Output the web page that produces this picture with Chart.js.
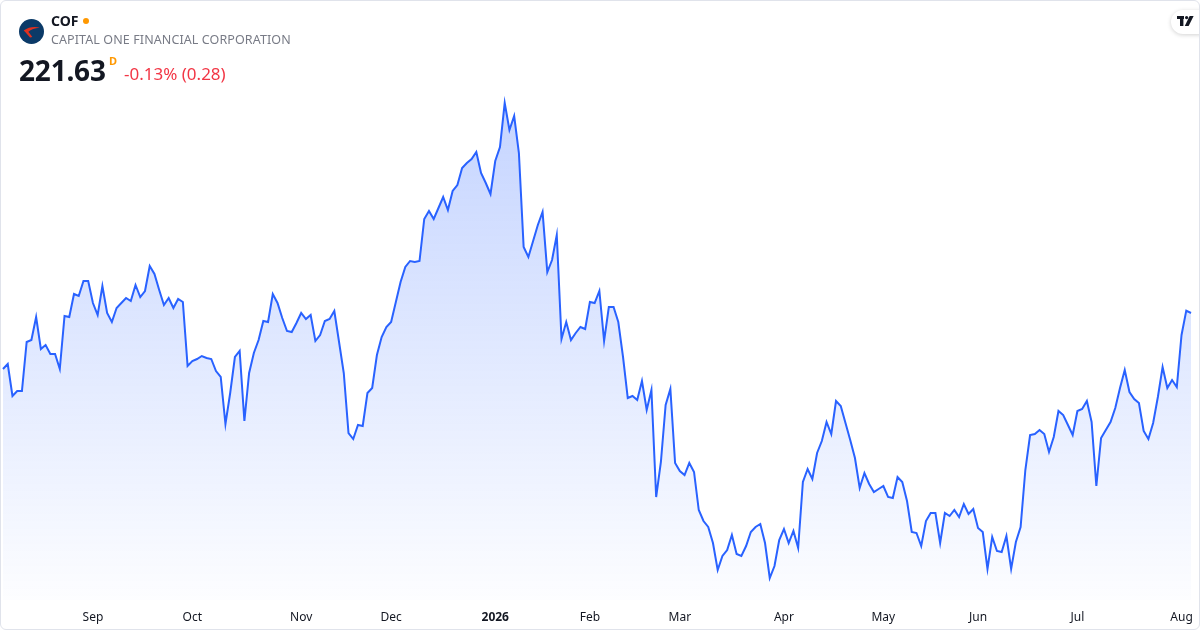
<!DOCTYPE html>
<html>
<head>
<meta charset="utf-8">
<script src="https://cdn.jsdelivr.net/npm/chart.js"></script>
<style>
  html, body { margin: 0; padding: 0; background: #fff; }
  body { width: 1200px; height: 630px; overflow: hidden; font-family: "Noto Sans", "Open Sans", sans-serif; }
  .card { position: absolute; left: 0; top: 0; width: 1198px; height: 628px; border: 1px solid #e0e3eb; border-radius: 6px; overflow: hidden; background: #fff; }
  #chart { position: absolute; left: -1px; top: -1px; }
  .logo { position: absolute; left: 18px; top: 18px; width: 25px; height: 25px; }
  .sym { position: absolute; left: 50px; top: 10px; font-size: 14px; font-weight: 700; color: #131722; }
  .dot { display: inline-block; width: 6px; height: 6px; border-radius: 50%; background: #ff9800; margin-left: 5px; vertical-align: 2px; }
  .name { position: absolute; left: 50px; top: 30px; font-size: 12.5px; color: #787b86; letter-spacing: 0.1px; }
  .price { position: absolute; left: 18px; top: 50px; font-size: 28px; font-weight: 700; color: #131722; letter-spacing: -0.2px; }
  .sup { position: absolute; left: 108px; top: 52px; font-size: 11px; font-weight: 700; color: #ff9800; }
  .chg { position: absolute; left: 123px; top: 61px; font-size: 17px; color: #f23645; }
  .tv { position: absolute; left: 1170px; top: 9px; width: 40px; height: 24px; border-radius: 12px; background: #fff; box-shadow: 0 1px 4px rgba(0,0,0,0.18); }
  .tv svg { position: absolute; left: 6px; top: 6px; }
</style>
</head>
<body>
<div class="card">
  <canvas id="chart" width="1200" height="630"></canvas>
  <svg class="logo" viewBox="0 0 24 24">
    <circle cx="12" cy="12" r="12" fill="#0b3a68"/>
    <path d="M4.5 11 C9 8 14.5 7 20 8.4 C15 8.6 11.4 10 9 12.2 L12.8 17.2 L10.6 17.8 L6.2 12.8 Z" fill="#e0311f"/>
  </svg>
  <div class="sym">COF<span class="dot"></span></div>
  <div class="name">CAPITAL ONE FINANCIAL CORPORATION</div>
  <div class="price">221.63</div>
  <div class="sup">D</div>
  <div class="chg">-0.13% (0.28)</div>
  <div class="tv">
    <svg width="17" height="11" viewBox="0 0 17 11">
      <rect x="0" y="0" width="7" height="3" fill="#131722"/>
      <rect x="3" y="0" width="3.4" height="10" fill="#131722"/>
      <circle cx="9.6" cy="1.6" r="1.6" fill="#131722"/>
      <polygon points="12.6,0 16.6,0 11.6,10 7.8,10" fill="#131722"/>
    </svg>
  </div>
</div>
<script>
// daily closes, Aug 5 2025 .. Aug 5 2026
const closes = [
  214.91, 215.51, 211.67, 212.27, 212.27, 218.15, 218.39, 221.15, 217.31, 217.79,
  216.71, 216.71, 214.91, 221.27, 221.15, 223.91, 223.67, 225.47, 225.47, 222.83,
  221.39, 224.87, 221.63, 220.55, 222.23, 222.83, 223.43, 223.07, 224.99, 223.55,
  224.27, 227.27, 226.31, 224.39, 222.59, 223.43, 222.23, 223.31, 222.95, 215.27,
  215.87, 216.11, 216.47, 216.23, 216.11, 214.67, 213.95, 208.31, 212.03, 216.35,
  217.07, 208.67, 214.43, 216.83, 218.39, 220.67, 220.55, 223.91, 222.83, 221.03,
  219.47, 219.35, 220.43, 221.63, 220.91, 221.39, 218.27, 218.99, 220.67, 220.91,
  221.87, 218.15, 214.43, 207.23, 206.51, 208.19, 208.07, 212.03, 212.63, 216.59,
  218.75, 219.95, 220.55, 222.95, 225.35, 227.15, 227.87, 227.75, 227.87, 232.91,
  233.87, 232.91, 234.23, 235.55, 233.99, 236.27, 236.99, 239.03, 239.63, 240.11,
  240.95, 238.43, 237.23, 235.91, 239.87, 241.55, 246.83, 243.59, 245.27, 240.83,
  229.55, 228.35, 230.27, 232.19, 233.75, 226.55, 227.99, 230.99, 218.51, 220.55,
  218.39, 219.23, 219.95, 219.71, 222.95, 222.83, 224.27, 218.27, 222.35, 222.35,
  220.55, 216.35, 211.43, 211.67, 211.19, 213.47, 209.99, 212.39, 199.55, 203.75,
  210.59, 212.51, 203.63, 202.67, 202.19, 203.63, 202.55, 197.99, 196.67, 195.95,
  194.03, 190.79, 192.47, 193.19, 194.99, 192.71, 192.47, 193.67, 195.35, 195.95,
  196.31, 194.03, 189.83, 191.27, 194.39, 195.71, 194.03, 195.47, 193.43, 201.35,
  202.91, 201.71, 204.83, 206.27, 208.55, 207.11, 211.07, 210.47, 208.43, 206.39,
  204.23, 200.63, 202.43, 201.11, 200.15, 200.51, 200.87, 199.55, 199.43, 201.95,
  201.35, 199.07, 195.35, 195.23, 193.67, 196.67, 197.63, 197.63, 194.03, 197.63,
  197.27, 197.99, 197.15, 198.71, 197.51, 198.11, 195.83, 195.35, 190.91, 194.75,
  193.07, 192.95, 194.87, 190.91, 194.15, 195.95, 202.79, 206.99, 207.11, 207.59,
  207.11, 204.95, 206.75, 209.87, 209.39, 208.19, 206.99, 209.87, 210.11, 211.07,
  208.55, 200.87, 206.63, 207.59, 208.55, 210.23, 212.63, 214.79, 212.15, 211.31,
  210.83, 207.47, 206.51, 208.43, 211.55, 215.15, 212.63, 213.59, 212.75, 218.99,
  221.91, 221.63
];

const firstDay = "2025-08-05";
const holidays = ["2025-09-01", "2025-11-27", "2025-12-25", "2026-01-01", "2026-01-19",
  "2026-02-16", "2026-04-03", "2026-05-25", "2026-06-19", "2026-07-03"];
const monthNames = ["Jan", "Feb", "Mar", "Apr", "May", "Jun", "Jul", "Aug", "Sep", "Oct", "Nov", "Dec"];

// trading-day labels
const days = [];
const d = new Date(firstDay + "T12:00:00Z");
while (days.length < closes.length) {
  const iso = d.toISOString().slice(0, 10);
  const wd = d.getUTCDay();
  if (wd !== 0 && wd !== 6 && !holidays.includes(iso)) days.push(iso);
  d.setUTCDate(d.getUTCDate() + 1);
}

function tickText(i) {
  if (i === 0) return null;
  const cur = days[i], prev = days[i - 1];
  if (cur.slice(5, 7) === prev.slice(5, 7)) return null;
  const m = +cur.slice(5, 7);
  return m === 1 ? cur.slice(0, 4) : monthNames[m - 1];
}

const ctx = document.getElementById("chart");
new Chart(ctx, {
  type: "line",
  data: {
    labels: days,
    datasets: [{
      data: closes,
      borderColor: "#2962ff",
      borderWidth: 2,
      pointRadius: 0,
      tension: 0,
      fill: "start",
      backgroundColor: (c) => {
        const area = c.chart.chartArea;
        if (!area) return "rgba(41,98,255,0.15)";
        const g = c.chart.ctx.createLinearGradient(0, area.top, 0, area.bottom);
        g.addColorStop(0, "rgba(41,98,255,0.28)");
        g.addColorStop(1, "rgba(41,98,255,0.01)");
        return g;
      }
    }]
  },
  options: {
    responsive: false,
    animation: false,
    layout: { padding: { left: 3, right: 9, top: 90, bottom: 0 } },
    plugins: { legend: { display: false }, tooltip: { enabled: false } },
    scales: {
      x: {
        offset: false,
        border: { display: false },
        grid: { display: false, drawTicks: false },
        afterFit: (s) => {
          s.height = 30;
          s.paddingLeft = 0;
          s.paddingRight = 0;
        },
        ticks: {
          autoSkip: false,
          maxRotation: 0,
          padding: 10,
          color: "#131722",
          font: (c) => ({
            family: "'Noto Sans', sans-serif",
            size: 12,
            weight: c.tick && c.tick.label === "2026" ? "bold" : "normal"
          }),
          callback: (v, i) => tickText(i)
        }
      },
      y: { display: false, min: 187.19, max: 248.39 }
    }
  }
});
</script>
</body>
</html>
